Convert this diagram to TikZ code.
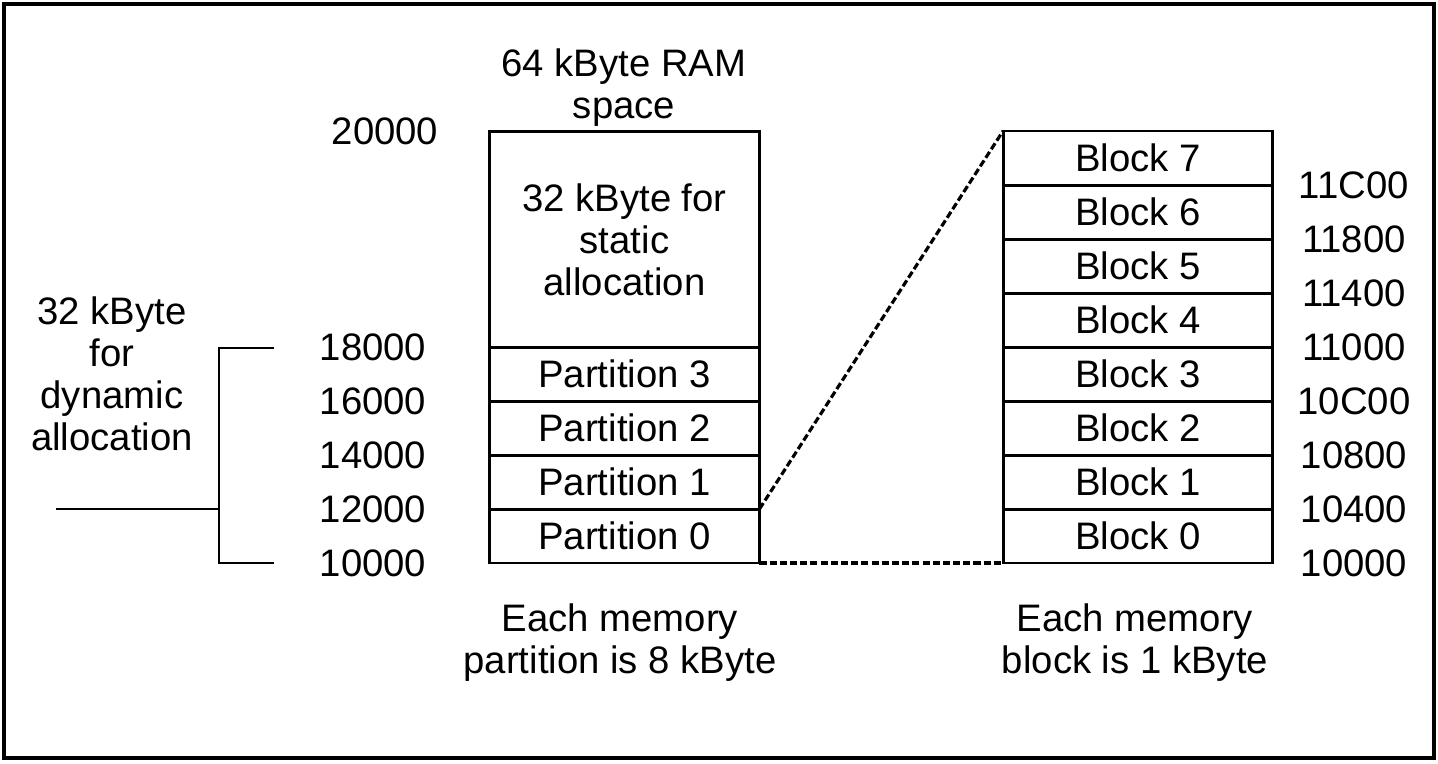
\documentclass[tikz,border=0pt]{standalone}
\usepackage{fontspec}
\setmainfont{Liberation Sans}
\begin{document}
\begin{tikzpicture}[x=0.02cm,y=-0.02cm,
  lbl/.style={font=\fontsize{21.8}{24}\selectfont, inner sep=0pt, align=center},
  cell/.style={draw, line width=1.7pt, minimum width=5.4cm, minimum height=1.08cm,
               inner sep=0pt, outer sep=0pt, font=\fontsize{21.8}{24}\selectfont},
  bigcell/.style={cell, minimum height=4.34cm, align=center},
  link/.style={line width=1.8pt, dash pattern=on 4pt off 1.8pt},
  wire/.style={line width=1.7pt}]
\useasboundingbox (0,0) rectangle (1438,764);
\draw[line width=1.9pt] (4,4) rectangle (1434,758);

% RAM column: static area and four partitions
\node[bigcell] (st) at (624.5,239.5) {32 kByte for\\static\\allocation};
\node[cell] (p3) at (624.5,374) {Partition 3};
\node[cell] (p2) at (624.5,428) {Partition 2};
\node[cell] (p1) at (624.5,482) {Partition 1};
\node[cell] (p0) at (624.5,536) {Partition 0};

% Partition 0 expanded into blocks
\foreach \i in {0,...,7}
  \node[cell] (b\i) at (1138,536-54*\i) {Block \i};

% zoom lines
\draw[link] (p0.north east) -- (b7.north west);
\draw[link] (p0.south east) -- (b0.south west);

% titles
\node[lbl] (ram) at (624,88) {64 kByte RAM\\space};
\node[lbl] (np) at (620,643) {Each memory\\partition is 8 kByte};
\node[lbl] (nb) at (1135,643) {Each memory\\block is 1 kByte};
\node[lbl] (dyn) at (112,374) {32 kByte\\for\\dynamic\\allocation};

% left addresses
\node[lbl] (a20) at (385,131) {20000};
\node[lbl] (a18) at (373,347) {18000};
\node[lbl] (a16) at (373,401) {16000};
\node[lbl] (a14) at (373,455) {14000};
\node[lbl] (a12) at (373,509) {12000};
\node[lbl] (a10) at (373,563) {10000};

% right addresses
\node[lbl] (r7) at (1354,185) {11C00};
\node[lbl] (r6) at (1354,239) {11800};
\node[lbl] (r5) at (1354,293) {11400};
\node[lbl] (r4) at (1354,347) {11000};
\node[lbl] (r3) at (1354,401) {10C00};
\node[lbl] (r2) at (1354,455) {10800};
\node[lbl] (r1) at (1354,509) {10400};
\node[lbl] (r0) at (1354,563) {10000};

% bracket for the dynamic area
\coordinate (bt) at (274,348);
\coordinate (btc) at (219,348);
\coordinate (bbc) at (219,563);
\coordinate (bb) at (274,563);
\coordinate (bm) at (219,509);
\coordinate (bl) at (56,509);
\draw[wire] (bt) -- (btc) -- (bbc) -- (bb);
\draw[wire] (bl) -- (bm);
\end{tikzpicture}
\end{document}
